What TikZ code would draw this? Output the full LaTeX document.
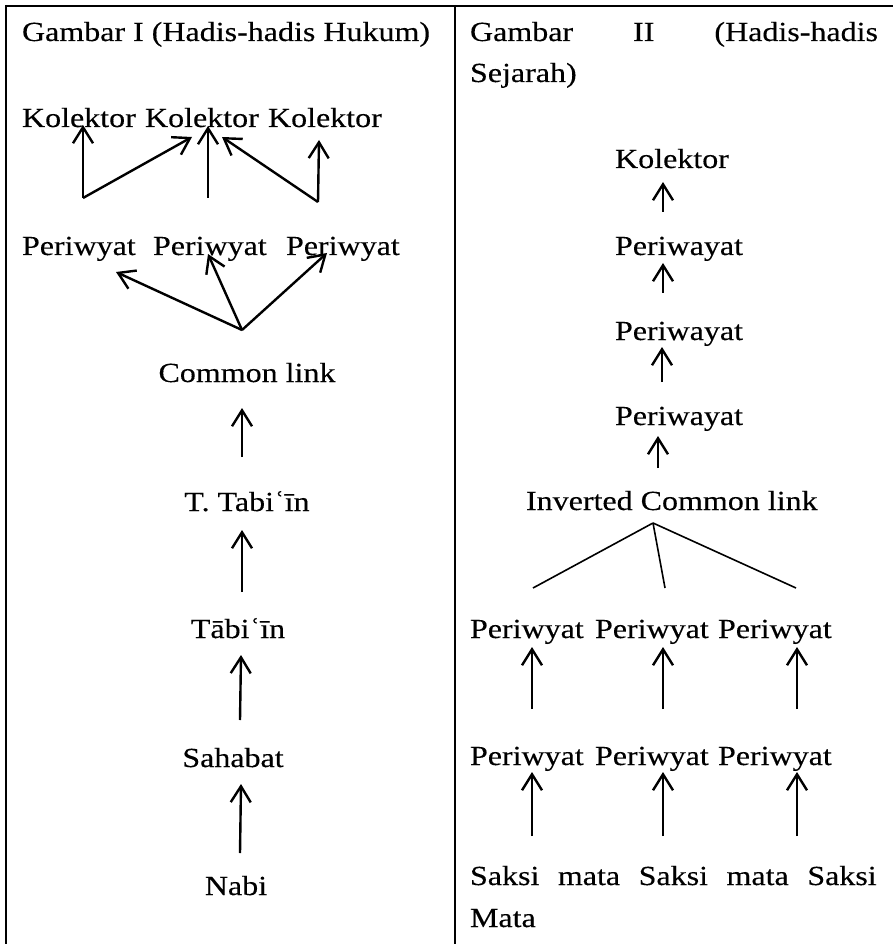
\documentclass[tikz,border=0pt]{standalone}
\usepackage{fontspec}
\setmainfont[FakeStretch=1.16,FakeBold=0.3]{Liberation Serif}
\usetikzlibrary{arrows.meta}
\begin{document}
\begin{tikzpicture}[x=0.75pt,y=-0.75pt,
  txt/.style={inner sep=0pt,outer sep=0pt,font=\fontsize{20.7pt}{24pt}\selectfont},
  lt/.style={txt,anchor=base west},
  ct/.style={txt,anchor=base},
  arr/.style={line width=1.8pt,-{Straight Barb[length=12pt,width=15pt,line width=1.8pt]}},
  thin/.style={line width=1.2pt},
  rule/.style={line width=1.8pt}]
\useasboundingbox (0,0) rectangle (893,944);
% table rules
\draw[rule] (5,6) -- (893,6);
\draw[rule] (6,5) -- (6,944);
\draw[rule] (455,5) -- (455,944);

% ---------- left column ----------
\node[lt] (t1) at (22,41) {Gambar I (Hadis-hadis Hukum)};
\node[lt] (k1) at (22,127) {Kolektor};
\node[lt] (k2) at (145,127) {Kolektor};
\node[lt] (k3) at (268,127) {Kolektor};
\node[lt] (p1) at (22,255) {Periwyat};
\node[lt] (p2) at (153,255) {Periwyat};
\node[lt] (p3) at (286,255) {Periwyat};
\node[ct] (cl) at (247,382) {Common link};
\node[ct] (tt) at (247,511) {T. Tabiʿīn};
\node[ct] (tb) at (238,638) {Tābiʿīn};
\node[ct] (sh) at (233,767) {Sahabat};
\node[ct] (nb) at (236,895) {Nabi};

\coordinate (a1) at (83,198);
\coordinate (a1t) at (83,125);
\coordinate (a2t) at (192,137);
\coordinate (a3) at (208,198);
\coordinate (a3t) at (208,126);
\coordinate (a4) at (318,202);
\coordinate (a4t) at (222,137);
\coordinate (a5t) at (319,140);
\draw[arr] (a1) -- (a1t);
\draw[arr] (a1) -- (a2t);
\draw[arr] (a3) -- (a3t);
\draw[arr] (a4) -- (a4t);
\draw[arr] (a4) -- (a5t);

\coordinate (b0) at (242,330);
\coordinate (b1) at (116,272);
\coordinate (b2) at (208,254);
\coordinate (b3) at (327,253);
\draw[arr] (b0) -- (b1);
\draw[arr] (b0) -- (b2);
\draw[arr] (b0) -- (b3);

\coordinate (c1) at (242,457); \coordinate (c1t) at (242,408);
\coordinate (c2) at (242,592); \coordinate (c2t) at (242,530);
\coordinate (c3) at (240,720); \coordinate (c3t) at (241,655);
\coordinate (c4) at (240,853); \coordinate (c4t) at (241,784);
\draw[arr] (c1) -- (c1t);
\draw[arr] (c2) -- (c2t);
\draw[arr] (c3) -- (c3t);
\draw[arr] (c4) -- (c4t);

% ---------- right column ----------
\node[lt] (t2) at (470,41) {\makebox[306pt][s]{Gambar II (Hadis-hadis}};
\node[lt] (t2b) at (470,82) {Sejarah)};
\node[ct] (rk) at (672,168) {Kolektor};
\node[lt] (rp1) at (615,255) {Periwayat};
\node[lt] (rp2) at (615,340) {Periwayat};
\node[lt] (rp3) at (615,425) {Periwayat};
\node[lt] (icl) at (526,510) {Inverted Common link};

\coordinate (d1) at (663,212); \coordinate (d1t) at (663,182);
\coordinate (d2) at (663,293); \coordinate (d2t) at (663,263);
\coordinate (d3) at (662,382); \coordinate (d3t) at (662,347);
\coordinate (d4) at (658,468); \coordinate (d4t) at (658,436);
\draw[arr] (d1) -- (d1t);
\draw[arr] (d2) -- (d2t);
\draw[arr] (d3) -- (d3t);
\draw[arr] (d4) -- (d4t);

\coordinate (e0) at (653,523);
\coordinate (e1) at (533,588);
\coordinate (e2) at (665,588);
\coordinate (e3) at (796,588);
\draw[thin] (e0) -- (e1);
\draw[thin] (e0) -- (e2);
\draw[thin] (e0) -- (e3);

\node[lt] (q1) at (470,638) {Periwyat};
\node[lt] (q2) at (595,638) {Periwyat};
\node[lt] (q3) at (718,638) {Periwyat};
\node[lt] (s1) at (470,765) {Periwyat};
\node[lt] (s2) at (595,765) {Periwyat};
\node[lt] (s3) at (718,765) {Periwyat};

\coordinate (f1) at (532,709); \coordinate (f1t) at (532,647);
\coordinate (f2) at (663,709); \coordinate (f2t) at (663,647);
\coordinate (f3) at (797,709); \coordinate (f3t) at (797,647);
\draw[arr] (f1) -- (f1t);
\draw[arr] (f2) -- (f2t);
\draw[arr] (f3) -- (f3t);

\coordinate (g1) at (532,836); \coordinate (g1t) at (532,772);
\coordinate (g2) at (663,836); \coordinate (g2t) at (663,772);
\coordinate (g3) at (797,836); \coordinate (g3t) at (797,772);
\draw[arr] (g1) -- (g1t);
\draw[arr] (g2) -- (g2t);
\draw[arr] (g3) -- (g3t);

\node[lt] (sm) at (470,885) {\makebox[305pt][s]{Saksi mata Saksi mata Saksi}};
\node[lt] (mt) at (470,927) {Mata};
\end{tikzpicture}
\end{document}
